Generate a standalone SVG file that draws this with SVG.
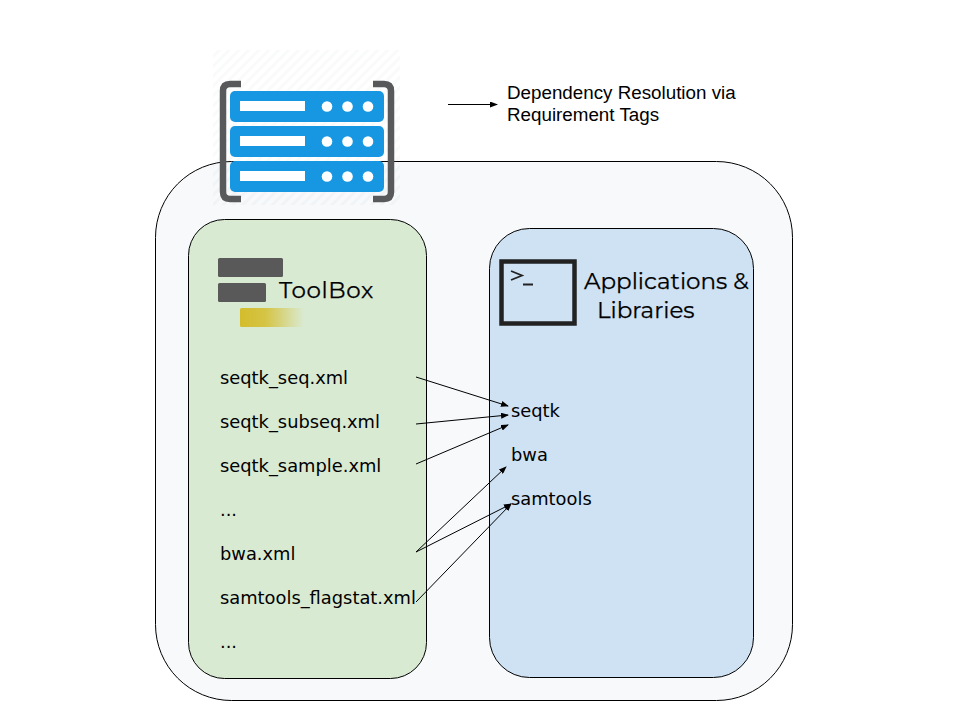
<svg xmlns="http://www.w3.org/2000/svg" width="960" height="720" viewBox="0 0 960 720">
<style>
.box{stroke:#000;stroke-width:1}
.t{font-family:"DejaVu Sans",sans-serif;font-size:17.85px;fill:#000}
.h{font-family:"Montserrat","Lato","Open Sans",sans-serif;font-size:23px;fill:#000;stroke:#000;stroke-width:.25}
.a{font-family:"Liberation Sans",Arial,sans-serif;font-size:18.8px;fill:#000}
.srv{fill:#1797e2}
.w{fill:#fff}
.br{fill:none;stroke:#58595b;stroke-width:6.500}
.c{fill:none;stroke:#000;stroke-width:1;marker-end:url(#ah)}
</style>
<defs>
<marker id="ah" markerWidth="8" markerHeight="6" refX="7" refY="3" orient="auto" markerUnits="userSpaceOnUse"><path d="M0 0L8 3L0 6z" fill="#000"/></marker>
<linearGradient id="y" x1="0" x2="1" y1="0" y2="0"><stop offset="0" stop-color="#d4bd2c"/><stop offset=".4" stop-color="#d4bd2c" stop-opacity=".85"/><stop offset="1" stop-color="#d4bd2c" stop-opacity="0"/></linearGradient>
<pattern id="hatch" width="7" height="7" patternUnits="userSpaceOnUse" patternTransform="rotate(45)"><rect width="3" height="7" fill="#9aa0a6" fill-opacity=".06"/></pattern>
</defs>
<rect width="960" height="720" fill="#fff"/>
<g id="container"><rect class="box" x="155.500" y="161.500" width="637" height="539" rx="76" ry="76" fill="#f7f9fb"/></g>
<g id="server">
<rect x="213" y="50" width="187" height="155" fill="url(#hatch)"/>
<path class="br" d="M241 84H230Q223 84 223 91V192Q223 199 230 199H241"/>
<path class="br" d="M373 84H384Q391 84 391 91V192Q391 199 384 199H373"/>
<rect class="srv" x="230" y="91" width="154" height="31" rx="5"/>
<rect class="srv" x="230" y="126" width="154" height="31" rx="5"/>
<rect class="srv" x="230" y="161" width="154" height="31" rx="5"/>
<g class="w">
<rect x="240" y="101" width="65" height="10"/><circle cx="327" cy="106.500" r="5.300"/><circle cx="347.500" cy="106.500" r="5.300"/><circle cx="368" cy="106.500" r="5.300"/>
<rect x="240" y="136" width="65" height="10"/><circle cx="327" cy="141.500" r="5.300"/><circle cx="347.500" cy="141.500" r="5.300"/><circle cx="368" cy="141.500" r="5.300"/>
<rect x="240" y="171" width="65" height="10"/><circle cx="327" cy="176.500" r="5.300"/><circle cx="347.500" cy="176.500" r="5.300"/><circle cx="368" cy="176.500" r="5.300"/>
</g>
</g>
<g id="legend"><text class="a" x="507" y="99">Dependency Resolution via</text><text class="a" x="507" y="121">Requirement Tags</text></g>
<g id="toolbox">
<rect class="box" x="188.500" y="219.500" width="238" height="459" rx="36" ry="36" fill="#d9ead3"/>
<rect x="218" y="258" width="65" height="19" rx="1.500" fill="#595959"/>
<rect x="218" y="283" width="48" height="19" rx="1.500" fill="#595959"/>
<rect x="240" y="308" width="64" height="19" rx="1.500" fill="url(#y)"/>
<text class="h" x="279" y="298" style="letter-spacing:.6px">ToolBox</text>
<text class="t" x="220" y="383.500">seqtk_seq.xml</text>
<text class="t" x="220" y="427.500">seqtk_subseq.xml</text>
<text class="t" x="220" y="471.500">seqtk_sample.xml</text>
<text class="t" x="220" y="515.500">...</text>
<text class="t" x="220" y="559.500">bwa.xml</text>
<text class="t" x="220" y="603.500">samtools_flagstat.xml</text>
<text class="t" x="220" y="647.500">...</text>
</g>
<g id="apps">
<rect class="box" x="489.500" y="228.500" width="264" height="449" rx="40" ry="40" fill="#cfe2f3"/>
<rect x="501.500" y="261.500" width="73" height="62" fill="none" stroke="#222" stroke-width="4.500"/>
<path d="M511 271L522 275.500L511 280" fill="none" stroke="#222" stroke-width="1.800"/>
<path d="M523 284.500H533" stroke="#222" stroke-width="2"/>
<text class="h" x="584" y="289">Applications &amp;</text>
<text class="h" x="597" y="318">Libraries</text>
<text class="t" x="511" y="416.500">seqtk</text>
<text class="t" x="511" y="460.500">bwa</text>
<text class="t" x="511" y="504.500">samtools</text>
</g>
<g id="connectors">
<path class="c" d="M448 104.500H497"/>
<path class="c" d="M416 377L508 406"/>
<path class="c" d="M416 424L508 415"/>
<path class="c" d="M416 464L508 425"/>
<path class="c" d="M416 552L506 467"/>
<path class="c" d="M416 552L511 504"/>
<path class="c" d="M416 602L511 504"/>
</g>
</svg>
